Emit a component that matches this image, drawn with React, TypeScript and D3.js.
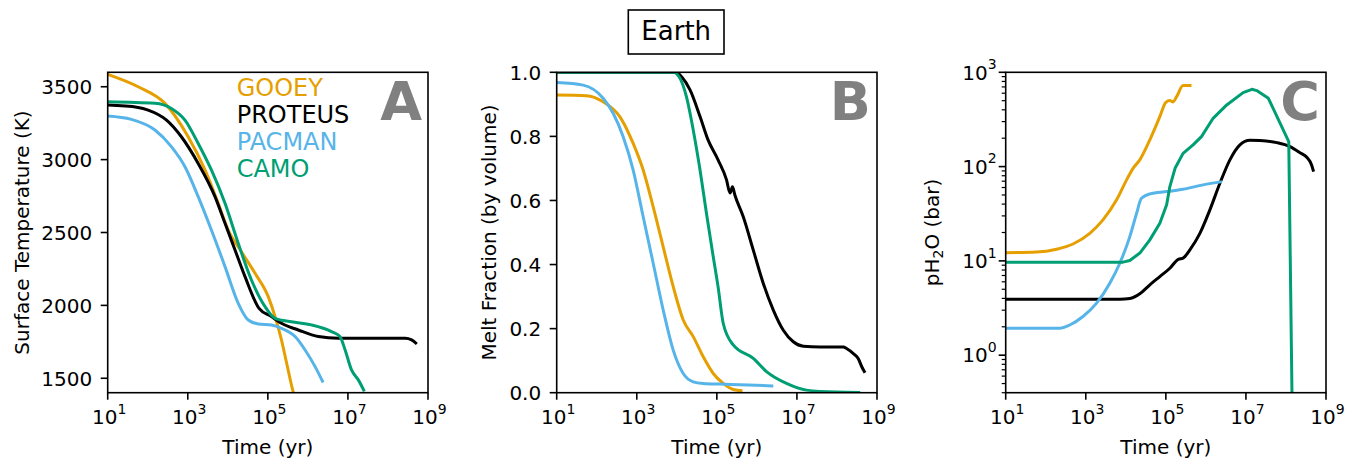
import React from 'react';
import * as d3 from 'd3';

// model names and colours (legend order)
const models = ['GOOEY', 'PROTEUS', 'PACMAN', 'CAMO'];
const colors = ['#E69F00', '#000000', '#56B4E9', '#009E73'];

// each point is [log10(time / yr), value]
const gooeyTemp = [[1.0, 3585], [1.76, 3500], [2.43, 3386], [3.01, 3157], [3.43, 2929], [3.76, 2700], [4.01, 2517], [4.34, 2368], [4.68, 2220], [5.01, 2060], [5.18, 1923], [5.34, 1763], [5.47, 1603], [5.61, 1431], [5.64, 1400]];
const proteusTemp = [[1.0, 3374], [1.76, 3358], [2.01, 3340], [2.47, 3271], [2.84, 3157], [3.26, 2974], [3.68, 2746], [3.93, 2563], [4.18, 2380], [4.43, 2197], [4.78, 1980], [5.09, 1923], [5.34, 1877], [5.76, 1831], [6.26, 1786], [6.76, 1774], [8.43, 1774], [8.59, 1763], [8.72, 1735]];
const pacmanTemp = [[1.0, 3299], [1.59, 3276], [2.18, 3203], [2.59, 3089], [2.93, 2951], [3.26, 2746], [3.59, 2517], [3.93, 2266], [4.26, 2014], [4.51, 1900], [4.76, 1873], [5.09, 1866], [5.34, 1843], [5.68, 1786], [5.93, 1694], [6.18, 1580], [6.38, 1471]];
const camoTemp = [[1.0, 3397], [2.18, 3386], [2.59, 3351], [2.93, 3271], [3.26, 3111], [3.59, 2929], [3.93, 2700], [4.26, 2426], [4.59, 2174], [4.93, 1991], [5.18, 1911], [5.59, 1888], [6.09, 1866], [6.59, 1820], [6.8, 1786], [6.93, 1694], [7.09, 1557], [7.26, 1489], [7.41, 1410]];

const gooeyMelt = [[1.0, 0.929], [1.74, 0.927], [2.16, 0.908], [2.58, 0.861], [2.91, 0.778], [3.16, 0.695], [3.41, 0.58], [3.66, 0.455], [3.91, 0.331], [4.16, 0.227], [4.41, 0.175], [4.66, 0.112], [4.91, 0.06], [5.16, 0.029], [5.41, 0.01], [5.64, 0.006]];
const proteusMelt = [[1.0, 1.0], [3.99, 1.0], [4.12, 0.986], [4.33, 0.945], [4.58, 0.862], [4.78, 0.789], [5.03, 0.727], [5.24, 0.665], [5.33, 0.623], [5.39, 0.643], [5.45, 0.617], [5.66, 0.549], [5.91, 0.445], [6.16, 0.341], [6.41, 0.258], [6.66, 0.195], [6.91, 0.159], [7.16, 0.145], [7.58, 0.143], [8.16, 0.143], [8.24, 0.138], [8.41, 0.122], [8.53, 0.107], [8.62, 0.081], [8.7, 0.062]];
const pacmanMelt = [[1.0, 0.968], [1.66, 0.96], [2.16, 0.919], [2.41, 0.872], [2.66, 0.799], [2.91, 0.695], [3.16, 0.549], [3.41, 0.404], [3.66, 0.258], [3.91, 0.133], [4.16, 0.06], [4.41, 0.034], [4.66, 0.029], [5.08, 0.027], [5.58, 0.025], [6.41, 0.021]];
const camoMelt = [[1.0, 1.0], [3.91, 1.0], [4.08, 0.981], [4.24, 0.924], [4.41, 0.82], [4.58, 0.695], [4.74, 0.56], [4.91, 0.424], [5.03, 0.331], [5.16, 0.216], [5.41, 0.149], [5.91, 0.107], [6.24, 0.066], [6.74, 0.029], [7.24, 0.008], [7.99, 0.002], [8.58, 0.001]];

// pH2O in bar
const gooeyH2O = [[1.0, 12.2], [1.77, 12.4], [2.27, 13.3], [2.68, 15.1], [3.1, 19.6], [3.43, 27.2], [3.77, 44.4], [4.02, 72.3], [4.18, 95.9], [4.35, 117.8], [4.6, 191.9], [4.85, 338.8], [5.0, 480.8], [5.1, 501.2], [5.18, 485.3], [5.27, 552.1], [5.43, 722.8], [5.64, 722.8]];
const proteusH2O = [[1.0, 3.93], [3.85, 3.93], [4.1, 3.99], [4.35, 4.47], [4.6, 5.57], [4.85, 6.82], [5.1, 8.36], [5.31, 10.4], [5.43, 10.7], [5.6, 13.1], [5.85, 19.6], [6.1, 34.8], [6.35, 66.5], [6.6, 117.8], [6.85, 169.8], [7.1, 190.0], [7.35, 189.0], [7.77, 179.5], [8.1, 162.9], [8.35, 140.6], [8.52, 125.6], [8.64, 104.2], [8.69, 88.5]];
const pacmanH2O = [[1.0, 1.93], [2.35, 1.93], [2.6, 2.09], [2.93, 2.57], [3.27, 3.56], [3.6, 5.79], [3.85, 9.44], [4.1, 18.1], [4.27, 32.0], [4.39, 46.1], [4.6, 51.3], [5.02, 54.3], [5.43, 57.5], [5.93, 64.0], [6.4, 69.3]];
const camoH2O = [[1.0, 9.7], [3.93, 9.7], [4.1, 10.1], [4.35, 12.1], [4.6, 16.7], [4.85, 25.1], [5.02, 39.3], [5.1, 61.4], [5.23, 95.9], [5.43, 138.0], [5.68, 169.8], [5.89, 208.0], [6.18, 325.1], [6.52, 450.8], [6.93, 608.1], [7.15, 660.0], [7.27, 639.7], [7.56, 529.7], [8.07, 184.0], [8.15, 0.4], [8.16, 0.3]];

const xTicks = [1, 3, 5, 7, 9];
const tempTicks = [1500, 2000, 2500, 3000, 3500];
const meltTicks = [0, 0.2, 0.4, 0.6, 0.8, 1.0];
const h2oTicks = [0, 1, 2, 3];

const TOP = 72.3;
const BOTTOM = 392.7;
const FONT = 'DejaVu Sans, sans-serif';

type Panel = {
  id: string;
  left: number;
  right: number;
  y: any;
  log: boolean;
  series: number[][][];
  letter: string;
  ylabel: React.ReactNode;
  ylabelX: number;
};

function Sup({ base, exp, x, y, anchor }: { base: string; exp: string; x: number; y: number; anchor: string }) {
  return (
    <text x={x} y={y} textAnchor={anchor} fontSize={20} fontFamily={FONT}>
      {base}
      <tspan fontSize={14} dy={-10.5}>{exp}</tspan>
    </text>
  );
}

function PanelView({ p }: { p: Panel }) {
  const x = d3.scaleLog().domain([10, 1e9]).range([p.left, p.right]);
  const makeLine = (curve: any) =>
    d3
      .line<number[]>()
      .x((d) => x(Math.pow(10, d[0])))
      .y((d) => p.y(d[1]))
      .curve(curve);
  const smooth = makeLine(d3.curveMonotoneX);
  const straight = makeLine(d3.curveLinear);

  const minor: number[] = [];
  if (p.log) {
    for (let k = -1; k <= 2; k++) {
      for (let m = 2; m <= 9; m++) {
        const v = m * Math.pow(10, k);
        if (v >= 0.4 && v <= 1000) minor.push(v);
      }
    }
  }

  return (
    <g>
      <defs>
        <clipPath id={'clip-' + p.id}>
          <rect x={p.left} y={TOP} width={p.right - p.left} height={BOTTOM - TOP} />
        </clipPath>
      </defs>

      <g clipPath={`url(#clip-${p.id})`}>
        {p.series.map((s, i) => {
          // the CAMO pH2O track has sharp corners, keep it piecewise-linear
          const gen = p.log && i === 3 ? straight : smooth;
          return <path key={i} d={gen(s) || ''} fill="none" stroke={colors[i]} strokeWidth={3} strokeLinejoin="round" />;
        })}
      </g>

      {/* panel letter */}
      <text x={p.right - 6} y={120} textAnchor="end" fontSize={54} fontWeight="bold" fill="#808080" fontFamily={FONT}>
        {p.letter}
      </text>

      <rect x={p.left} y={TOP} width={p.right - p.left} height={BOTTOM - TOP} fill="none" stroke="#000" strokeWidth={1.6} />

      {/* x axis */}
      {xTicks.map((e) => (
        <g key={e}>
          <line x1={x(Math.pow(10, e))} x2={x(Math.pow(10, e))} y1={BOTTOM} y2={BOTTOM + 7} stroke="#000" strokeWidth={1.6} />
          <Sup base="10" exp={String(e)} x={x(Math.pow(10, e)) + 1.5} y={424} anchor="middle" />
        </g>
      ))}
      <text x={(p.left + p.right) / 2} y={454} textAnchor="middle" fontSize={20} fontFamily={FONT}>
        Time (yr)
      </text>

      {/* y axis */}
      {p.log
        ? h2oTicks.map((e) => (
            <g key={e}>
              <line x1={p.left - 7} x2={p.left} y1={p.y(Math.pow(10, e))} y2={p.y(Math.pow(10, e))} stroke="#000" strokeWidth={1.6} />
              <Sup base="10" exp={String(e)} x={p.left - 9} y={p.y(Math.pow(10, e)) + 7.3} anchor="end" />
            </g>
          ))
        : (p.id === 'A' ? tempTicks : meltTicks).map((v) => (
            <g key={v}>
              <line x1={p.left - 7} x2={p.left} y1={p.y(v)} y2={p.y(v)} stroke="#000" strokeWidth={1.6} />
              <text x={p.left - 15.5} y={p.y(v) + 7.3} textAnchor="end" fontSize={20} fontFamily={FONT}>
                {p.id === 'A' ? String(v) : d3.format('.1f')(v)}
              </text>
            </g>
          ))}
      {minor.map((v) => (
        <line key={v} x1={p.left - 4} x2={p.left} y1={p.y(v)} y2={p.y(v)} stroke="#000" strokeWidth={1.2} />
      ))}
      <text
        transform={`translate(${p.ylabelX},${(TOP + BOTTOM) / 2}) rotate(-90)`}
        textAnchor="middle"
        fontSize={20}
        fontFamily={FONT}
      >
        {p.ylabel}
      </text>
    </g>
  );
}

export default function App() {
  const panels: Panel[] = [
    {
      id: 'A',
      left: 107.7,
      right: 428,
      y: d3.scaleLinear().domain([1401, 3599]).range([BOTTOM, TOP]),
      log: false,
      series: [gooeyTemp, proteusTemp, pacmanTemp, camoTemp],
      letter: 'A',
      ylabel: 'Surface Temperature (K)',
      ylabelX: 28.5,
    },
    {
      id: 'B',
      left: 556.7,
      right: 877,
      y: d3.scaleLinear().domain([0, 1]).range([BOTTOM, TOP]),
      log: false,
      series: [gooeyMelt, proteusMelt, pacmanMelt, camoMelt],
      letter: 'B',
      ylabel: 'Melt Fraction (by volume)',
      ylabelX: 496,
    },
    {
      id: 'C',
      left: 1005.7,
      right: 1326,
      y: d3.scaleLog().domain([0.4, 1000]).range([BOTTOM, TOP]),
      log: true,
      series: [gooeyH2O, proteusH2O, pacmanH2O, camoH2O],
      letter: 'C',
      ylabel: (
        <>
          pH<tspan fontSize={14} dy={4}>2</tspan>
          <tspan dy={-4}>O (bar)</tspan>
        </>
      ),
      ylabelX: 938.5,
    },
  ];

  return (
    <svg width={1357} height={464} style={{ position: 'absolute', left: 0, top: 0, background: '#fff' }}>
      <rect width={1357} height={464} fill="#fff" />
      {panels.map((p) => (
        <PanelView key={p.id} p={p} />
      ))}

      {/* legend in panel A */}
      {models.map((m, i) => (
        <text key={m} x={236.7} y={96 + i * 27.1} fontSize={24} fill={colors[i]} fontFamily={FONT}>
          {m}
        </text>
      ))}

      {/* title box */}
      <rect x={628.3} y={10} width={95.7} height={44} fill="#fff" stroke="#000" strokeWidth={1.6} />
      <text x={676.2} y={39.5} textAnchor="middle" fontSize={26} fontFamily={FONT}>
        Earth
      </text>
    </svg>
  );
}
